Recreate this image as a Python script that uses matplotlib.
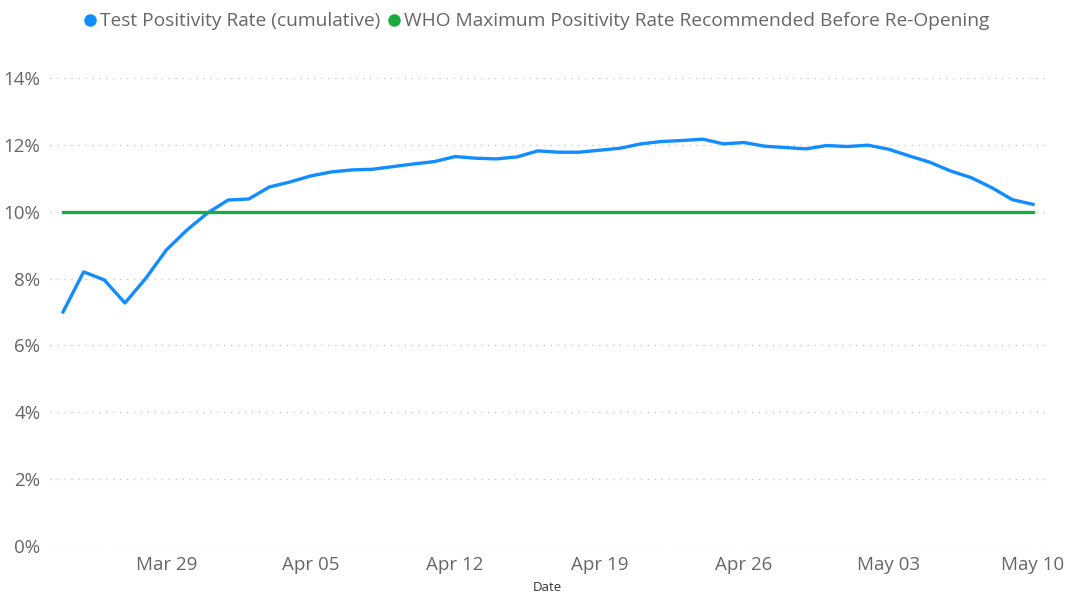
import matplotlib
matplotlib.use("Agg")
import matplotlib.pyplot as plt
import matplotlib.dates as mdates
from matplotlib.lines import Line2D
import pandas as pd
import numpy as np

dates = pd.date_range("2020-03-24", "2020-05-10", freq="D")
positivity = [7.0, 8.2, 7.96, 7.27, 8.0, 8.85, 9.45, 9.96, 10.35, 10.38,
              10.74, 10.89, 11.07, 11.19, 11.25, 11.27, 11.35, 11.43, 11.5, 11.65,
              11.6, 11.58, 11.64, 11.82, 11.78, 11.78, 11.84, 11.9, 12.03, 12.1,
              12.13, 12.17, 12.03, 12.07, 11.96, 11.92, 11.88, 11.98, 11.95, 11.99,
              11.87, 11.67, 11.48, 11.22, 11.02, 10.72, 10.36, 10.22]
who_max = [10.0] * len(dates)
tick_dates = pd.to_datetime(["2020-03-29", "2020-04-05", "2020-04-12", "2020-04-19",
                             "2020-04-26", "2020-05-03", "2020-05-10"])
tick_labels = ["Mar 29", "Apr 05", "Apr 12", "Apr 19", "Apr 26", "May 03", "May 10"]
y_ticks = [0, 2, 4, 6, 8, 10, 12, 14]

blue = "#118DFF"
green = "#1AAB40"
gray = "#666666"

plt.rcParams['font.family'] = ['Open Sans', 'DejaVu Sans']
fig = plt.figure(figsize=(10.67, 5.96), dpi=100)
W, H = 1067, 596
ax = fig.add_axes([50 / W, 1 - 546 / H, (1045 - 50) / W, (546 - 78) / H])

ax.plot(dates, positivity, color=blue, lw=2.4, solid_joinstyle="round")
ax.plot(dates, who_max, color=green, lw=2.4)

d0 = mdates.date2num(dates[0])
ax.set_xlim(d0 - 0.63, d0 + 47.58)
ax.set_ylim(0, 14)
ax.set_yticks(y_ticks)
ax.set_yticklabels([f"{v}%" for v in y_ticks])
ax.set_xticks(tick_dates)
ax.set_xticklabels(tick_labels)
ax.tick_params(axis="both", length=0, colors=gray, labelsize=13.5)
ax.tick_params(axis="y", pad=7)
ax.tick_params(axis="x", pad=7)
ax.grid(axis="y", color="#C8C8C8", linestyle=(0, (1, 4)), lw=1)
for s in ax.spines.values():
    s.set_visible(False)
ax.set_xlabel("Date", color="#333333", fontsize=9.5, labelpad=5)

handles = [Line2D([], [], marker="o", color=blue, linestyle="none", markersize=8),
           Line2D([], [], marker="o", color=green, linestyle="none", markersize=8)]
leg = fig.legend(handles, ["Test Positivity Rate (cumulative)",
                           "WHO Maximum Positivity Rate Recommended Before Re-Opening"],
                 loc="upper center", bbox_to_anchor=(535 / W, 1.008), ncol=2, frameon=False,
                 fontsize=13.8, handletextpad=0.0, columnspacing=0.25, handlelength=1.0)
for t in leg.get_texts():
    t.set_color(gray)

fig.savefig("out.png", dpi=100)
